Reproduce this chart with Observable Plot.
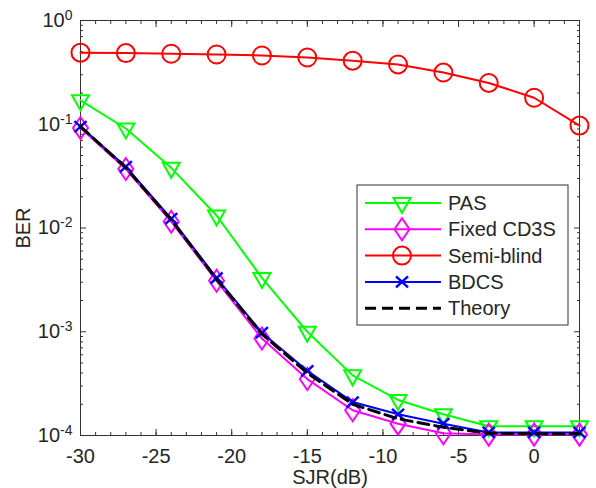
<!DOCTYPE html>
<html>
<head>
<meta charset="utf-8">
<script src="https://cdn.jsdelivr.net/npm/d3@7"></script>
<script src="https://cdn.jsdelivr.net/npm/@observablehq/plot@0.6"></script>
<style>
  html, body { margin: 0; padding: 0; background: white; }
  #chart { width: 596px; height: 488px; }
</style>
</head>
<body>
<div id="chart"></div>
<script>
// ---- data ----
const sjr = [-30, -27, -24, -21, -18, -15, -12, -9, -6, -3, 0, 3];
const pas = [0.17, 0.091, 0.038, 0.0132, 0.0033, 0.00100, 0.00038, 0.00022, 0.00016, 0.000123, 0.000123, 0.000123];
const cd3s = [0.092, 0.037, 0.0115, 0.0031, 0.00086, 0.00035, 0.000175, 0.00013, 0.000105, 0.000102, 0.000102, 0.000102];
const semiBlind = [0.49, 0.485, 0.478, 0.47, 0.46, 0.44, 0.41, 0.377, 0.315, 0.25, 0.18, 0.097];
const bdcs = [0.095, 0.039, 0.0123, 0.0033, 0.00098, 0.00042, 0.00021, 0.00016, 0.00013, 0.000107, 0.000107, 0.000107];
const theory = [0.095, 0.038, 0.012, 0.0032, 0.00095, 0.0004, 0.0002, 0.000145, 0.00012, 0.000105, 0.000104, 0.000104];

const seriesNames = ["PAS", "Fixed CD3S", "Semi-blind", "BDCS", "Theory"];
const xTickValues = [-30, -25, -20, -15, -10, -5, 0];
const xMinorTicks = d3.range(-30, 4, 1);
const yTickValues = [1e-4, 1e-3, 1e-2, 1e-1, 1];
const yMinorTicks = [];
for (let k = -4; k < 0; k++) for (let m = 2; m <= 9; m++) yMinorTicks.push(m * Math.pow(10, k));

// ---- marker shapes ----
const triDown = { draw(c) { c.moveTo(-8.5, -5); c.lineTo(8.5, -5); c.lineTo(0, 10); c.closePath(); } };
const diamond = { draw(c) { c.moveTo(0, -11); c.lineTo(7.5, 0); c.lineTo(0, 11); c.lineTo(-7.5, 0); c.closePath(); } };
const circle = { draw(c) { c.moveTo(9, 0); c.arc(0, 0, 9, 0, 2 * Math.PI); } };
const cross = { draw(c) { c.moveTo(-6, -5.5); c.lineTo(6, 5.5); c.moveTo(-6, 5.5); c.lineTo(6, -5.5); } };

const series = [
  { name: seriesNames[0], values: pas, color: "#00ff00", symbol: triDown, sw: 2 },
  { name: seriesNames[1], values: cd3s, color: "#ff00ff", symbol: diamond, sw: 2 },
  { name: seriesNames[2], values: semiBlind, color: "#ff0000", symbol: circle, sw: 2 },
  { name: seriesNames[3], values: bdcs, color: "#0000ff", symbol: cross, sw: 2.5 },
  { name: seriesNames[4], values: theory, color: "#000000", symbol: null, sw: 3, dash: "11,6" }
];

const axisColor = "#333333";
const font = "'Liberation Sans', Arial, sans-serif";
const fs = 20;

const marks = [];
for (const s of series) {
  const rows = sjr.map((x, i) => ({ x, y: s.values[i] }));
  marks.push(Plot.line(rows, { x: "x", y: "y", stroke: s.color, strokeWidth: s.dash ? 3 : 2, strokeDasharray: s.dash || null }));
  if (s.symbol) marks.push(Plot.dot(rows, { x: "x", y: "y", symbol: s.symbol, r: 5, stroke: s.color, strokeWidth: s.sw, fill: "none" }));
}

const chart = Plot.plot({
  width: 596,
  height: 488,
  marginLeft: 80,
  marginRight: 17,
  marginTop: 20,
  marginBottom: 53,
  style: { fontFamily: font, fontSize: fs + "px", color: "#262626", background: "white" },
  x: { domain: [-30, 3] },
  y: { type: "log", domain: [1e-4, 1] },
  marks: [
    Plot.frame({ stroke: axisColor, strokeWidth: 1 }),
    // tick marks (inward)
    Plot.axisX({ ticks: xMinorTicks, tickSize: -3, tickFormat: () => "", label: null, stroke: axisColor }),
    Plot.axisX({ ticks: xTickValues, tickSize: -6, tickFormat: () => "", label: null, stroke: axisColor }),
    Plot.axisX({ anchor: "top", ticks: xMinorTicks, tickSize: -3, tickFormat: () => "", label: null, stroke: axisColor }),
    Plot.axisX({ anchor: "top", ticks: xTickValues, tickSize: -6, tickFormat: () => "", label: null, stroke: axisColor }),
    Plot.axisY({ ticks: yMinorTicks, tickSize: -3, tickFormat: () => "", label: null, stroke: axisColor }),
    Plot.axisY({ ticks: yTickValues, tickSize: -6, tickFormat: () => "", label: null, stroke: axisColor }),
    Plot.axisY({ anchor: "right", ticks: yMinorTicks, tickSize: -3, tickFormat: () => "", label: null, stroke: axisColor }),
    Plot.axisY({ anchor: "right", ticks: yTickValues, tickSize: -6, tickFormat: () => "", label: null, stroke: axisColor }),
    // tick labels
    Plot.axisX({ ticks: xTickValues, tickSize: 0, tickPadding: 13, tickFormat: d => String(d), label: null, fontSize: fs, fill: "#262626" }),
    Plot.axisY({ ticks: yTickValues, tickSize: 0, tickPadding: 8, tickFormat: d => "10^" + Math.round(Math.log10(d)), label: null, fontSize: fs, fill: "#262626" }),
    // axis titles
    Plot.text(["SJR(dB)"], { text: d => d, frameAnchor: "bottom", lineAnchor: "middle", dy: 42, fontSize: fs, fill: "#262626" }),
    Plot.text(["BER"], { text: d => d, frameAnchor: "left", textAnchor: "middle", lineAnchor: "middle", dx: -57, rotate: -90, fontSize: fs, fill: "#262626" }),
    ...marks
  ]
});

document.getElementById("chart").appendChild(chart);

// superscript exponents on y tick labels
const svg = d3.select(chart);
svg.selectAll('g[aria-label="y-axis tick label"] text').each(function () {
  const t = this.textContent;
  if (!t.startsWith("10^")) return;
  const exp = t.slice(3);
  const el = d3.select(this);
  el.text(null);
  el.append("tspan").text("10");
  el.append("tspan").attr("dy", "-7").attr("font-size", "14px").text(exp);
});

// legend
const lg = svg.append("g").attr("transform", "translate(357,185)");
lg.append("rect").attr("width", 211).attr("height", 140).attr("fill", "white").attr("stroke", axisColor).attr("stroke-width", 1);
const rowY = [18, 44.3, 70.6, 96.9, 123.2];
series.forEach((s, i) => {
  const y = rowY[i];
  lg.append("line").attr("x1", 8).attr("x2", 84).attr("y1", y).attr("y2", y)
    .attr("stroke", s.color).attr("stroke-width", s.dash ? 3 : 2)
    .attr("stroke-dasharray", s.dash || null);
  if (s.symbol) {
    const p = d3.path();
    s.symbol.draw(p);
    lg.append("path").attr("d", p.toString()).attr("transform", `translate(45,${y})`)
      .attr("fill", "none").attr("stroke", s.color).attr("stroke-width", s.sw);
  }
  lg.append("text").attr("x", 91).attr("y", y).attr("dy", "0.35em")
    .attr("text-anchor", "start")
    .attr("font-family", font).attr("font-size", fs).attr("fill", "#262626").text(s.name);
});
</script>
</body>
</html>
